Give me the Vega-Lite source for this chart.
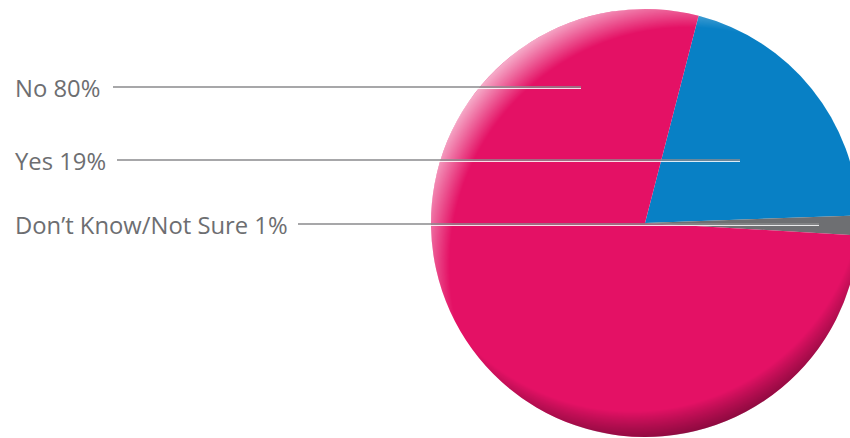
{
  "$schema": "https://vega.github.io/schema/vega-lite/v6.json",
  "width": 850,
  "height": 438,
  "autosize": {"type": "none"},
  "padding": 0,
  "background": "white",
  "config": {"view": {"stroke": null}},
  "datasets": {
    "slices": [
      {"answer": "Yes", "share": 20.4, "rank": 1},
      {"answer": "Don't Know/Not Sure", "share": 1.5, "rank": 2},
      {"answer": "No", "share": 78.1, "rank": 3}
    ],
    "callouts": [
      {"label": "No 80%", "y": 87, "x0": 113, "x1": 581},
      {"label": "Yes 19%", "y": 160, "x0": 117, "x1": 740},
      {"label": "Don’t Know/Not Sure 1%", "y": 224, "x0": 298, "x1": 819}
    ],
    "disc": [{"shape": "disc"}]
  },
  "layer": [
    {
      "data": {"name": "slices"},
      "mark": {"type": "arc", "outerRadius": 214},
      "encoding": {
        "x": {"datum": 645, "type": "quantitative", "scale": {"domain": [0, 850], "nice": false, "zero": false}, "axis": null},
        "y": {"datum": 223, "type": "quantitative", "scale": {"domain": [438, 0], "nice": false, "zero": false}, "axis": null},
        "theta": {"field": "share", "type": "quantitative", "stack": true, "scale": {"range": [0.2531, 6.5363]}},
        "color": {"field": "answer", "type": "nominal", "legend": null,
          "scale": {"domain": ["Yes", "Don't Know/Not Sure", "No"], "range": ["#0880C5", "#6E6F72", "#E41165"]}},
        "order": {"field": "rank", "type": "quantitative"}
      }
    },
    {
      "data": {"name": "disc"},
      "mark": {"type": "arc", "outerRadius": 214, "theta": 0, "theta2": 6.2832,
        "fill": {"gradient": "radial", "x1": 0.47, "y1": 0.4, "r1": 0, "x2": 0.47, "y2": 0.4, "r2": 0.62,
          "stops": [{"offset": 0, "color": "rgba(0,0,0,0)"}, {"offset": 0.87, "color": "rgba(0,0,0,0)"}, {"offset": 1, "color": "rgba(40,0,20,0.55)"}]}},
      "encoding": {
        "x": {"datum": 645, "type": "quantitative", "scale": {"domain": [0, 850], "nice": false, "zero": false}, "axis": null},
        "y": {"datum": 223, "type": "quantitative", "scale": {"domain": [438, 0], "nice": false, "zero": false}, "axis": null}
      }
    },
    {
      "data": {"name": "disc"},
      "mark": {"type": "arc", "outerRadius": 214, "theta": 0, "theta2": 6.2832,
        "fill": {"gradient": "radial", "x1": 0.6, "y1": 0.6, "r1": 0, "x2": 0.6, "y2": 0.6, "r2": 0.64,
          "stops": [{"offset": 0, "color": "rgba(255,255,255,0)"}, {"offset": 0.87, "color": "rgba(255,255,255,0)"}, {"offset": 1, "color": "rgba(255,255,255,0.65)"}]}},
      "encoding": {
        "x": {"datum": 645, "type": "quantitative", "scale": {"domain": [0, 850], "nice": false, "zero": false}, "axis": null},
        "y": {"datum": 223, "type": "quantitative", "scale": {"domain": [438, 0], "nice": false, "zero": false}, "axis": null}
      }
    },
    {
      "data": {"name": "callouts"},
      "mark": {"type": "rule", "stroke": "#FFFFFF", "strokeWidth": 1.2, "opacity": 0.85, "yOffset": 1.5},
      "encoding": {
        "x": {"field": "x0", "type": "quantitative", "scale": {"domain": [0, 850], "nice": false, "zero": false}, "axis": null},
        "x2": {"field": "x1"},
        "y": {"field": "y", "type": "quantitative", "scale": {"domain": [438, 0], "nice": false, "zero": false}, "axis": null}
      }
    },
    {
      "data": {"name": "callouts"},
      "mark": {"type": "rule", "stroke": "#8A8A8C", "strokeWidth": 1.6},
      "encoding": {
        "x": {"field": "x0", "type": "quantitative", "scale": {"domain": [0, 850], "nice": false, "zero": false}, "axis": null},
        "x2": {"field": "x1"},
        "y": {"field": "y", "type": "quantitative", "scale": {"domain": [438, 0], "nice": false, "zero": false}, "axis": null}
      }
    },
    {
      "data": {"name": "callouts"},
      "mark": {"type": "text", "font": "Open Sans", "fontSize": 23.8, "color": "#6D6E71", "align": "left", "baseline": "alphabetic", "dy": 9.5},
      "encoding": {
        "x": {"datum": 15, "type": "quantitative", "scale": {"domain": [0, 850], "nice": false, "zero": false}, "axis": null},
        "y": {"field": "y", "type": "quantitative", "scale": {"domain": [438, 0], "nice": false, "zero": false}, "axis": null},
        "text": {"field": "label"}
      }
    }
  ]
}
